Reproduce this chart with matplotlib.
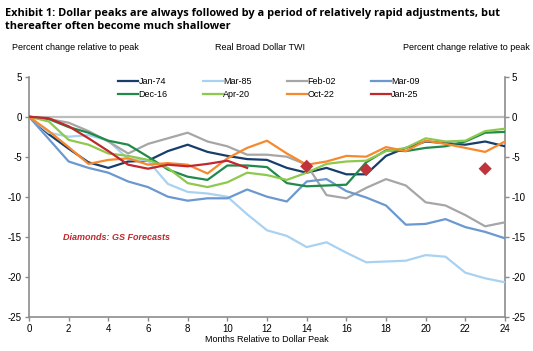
import matplotlib
matplotlib.use("Agg")
import matplotlib.pyplot as plt
import numpy as np

plt.rcParams['font.family'] = ['Liberation Sans', 'DejaVu Sans']
plt.rcParams['axes.unicode_minus'] = False

months = list(range(25))

jan74 = [0, -2.2, -4.0, -5.7, -6.4, -5.6, -5.5, -4.3, -3.5, -4.4, -4.9, -5.3, -5.4,
         -6.4, -7.0, -6.4, -7.2, -7.2, -4.9, -3.9, -3.1, -3.3, -3.5, -3.1, -3.7]
mar85 = [0, -2.0, -2.5, -2.3, -3.0, -5.3, -5.5, -8.4, -9.4, -9.6, -10.0, -12.2, -14.2,
         -14.9, -16.3, -15.7, -17.0, -18.2, -18.1, -18.0, -17.3, -17.5, -19.5, -20.2, -20.7]
feb02 = [0, -0.3, -0.75, -1.8, -3.1, -4.6, -3.4, -2.7, -2.0, -3.1, -3.7, -4.75, -4.75,
         -5.0, -6.0, -9.8, -10.2, -8.9, -7.8, -8.6, -10.7, -11.1, -12.3, -13.7, -13.2]
mar09 = [0, -2.8, -5.6, -6.4, -7.0, -8.1, -8.8, -10.0, -10.5, -10.2, -10.2, -9.1, -10.0,
         -10.6, -8.1, -7.8, -9.3, -10.1, -11.1, -13.5, -13.4, -12.8, -13.8, -14.4, -15.2]
dec16 = [0, -0.3, -1.3, -2.0, -3.0, -3.5, -5.0, -6.6, -7.5, -7.9, -6.1, -6.1, -6.3,
         -8.3, -8.7, -8.6, -8.5, -5.7, -4.2, -4.3, -3.9, -3.7, -3.1, -2.0, -1.9]
apr20 = [0, -0.6, -2.9, -3.5, -4.6, -4.9, -5.4, -6.4, -8.3, -8.8, -8.2, -7.0, -7.3,
         -7.9, -7.0, -5.9, -5.6, -5.5, -4.3, -3.9, -2.7, -3.1, -3.0, -1.8, -1.5]
oct22 = [0, -1.8, -3.8, -5.9, -5.4, -5.2, -6.0, -5.8, -6.0, -7.1, -5.2, -3.9, -3.0,
         -4.6, -6.0, -5.6, -4.9, -5.0, -3.8, -4.3, -3.0, -3.4, -3.9, -4.4, -3.1]
jan25 = [0, -0.2, -1.2, -2.7, -4.3, -6.0, -6.5, -6.0, -6.2, -5.9, -5.5, -6.4]

forecast_months = [14, 17, 23]
forecast_vals = [-6.2, -6.6, -6.5]

series = [
    ("Jan-74", jan74, "#173E6B"),
    ("Mar-85", mar85, "#A9D2F1"),
    ("Feb-02", feb02, "#A6A6A6"),
    ("Mar-09", mar09, "#6B98CF"),
    ("Dec-16", dec16, "#1F8A49"),
    ("Apr-20", apr20, "#8DC94C"),
    ("Oct-22", oct22, "#F7892D"),
    ("Jan-25", jan25, "#C1272D"),
]

fig = plt.figure(figsize=(5.33, 3.51), dpi=100)
ax = fig.add_axes([29/533, (351-316.7)/351, (505-29)/533, (316.7-76.7)/351])

ax.axhline(0, color="#BDBDBD", lw=1.6, zorder=1)
handles = {}
for name, vals, col in series:
    h, = ax.plot(months[:len(vals)], vals, color=col, lw=1.6, label=name, zorder=3)
    handles[name] = h
ax.scatter(forecast_months, forecast_vals, marker="D", s=45, color="#C0333A", zorder=5,
           edgecolors="none")

ax.set_xlim(0, 24)
ax.set_ylim(-25, 5)
ax.set_xticks(range(0, 25, 2))
ax.set_yticks(range(-25, 6, 5))
ax.spines["top"].set_visible(False)
for s in ["left", "right", "bottom"]:
    ax.spines[s].set_color("#8C8C8C")
    ax.spines[s].set_linewidth(1.2)
ax.tick_params(axis="both", labelsize=7, color="#8C8C8C", length=3, width=1,
               direction="out", pad=2)
ax.tick_params(axis="y", left=True, right=True, labelleft=True, labelright=True)

ax.set_xlabel("Months Relative to Dollar Peak", fontsize=6.5, labelpad=1)

fig.text(5/533, 1 - 20/351, "Exhibit 1: Dollar peaks are always followed by a period of relatively rapid adjustments, but\nthereafter often become much shallower",
         fontsize=7.9, fontweight="bold", family=["Open Sans", "DejaVu Sans"],
         va="center", ha="left", linespacing=1.2)
fig.text(12/533, 1 - 47/351, "Percent change relative to peak", fontsize=6.5, va="center", ha="left")
fig.text(260/533, 1 - 47/351, "Real Broad Dollar TWI", fontsize=6.5, va="center", ha="center")
fig.text(530/533, 1 - 47/351, "Percent change relative to peak", fontsize=6.5, va="center", ha="right")

ax.text(1.7, -15.1, "Diamonds: GS Forecasts", color="#C1272D", fontsize=6.5,
        fontweight="bold", style="italic", va="center", ha="left")

order = ["Jan-74", "Dec-16", "Mar-85", "Apr-20", "Feb-02", "Oct-22", "Mar-09", "Jan-25"]
leg = ax.legend([handles[n] for n in order], order, loc="center",
                bbox_to_anchor=(269/533, 1 - 88/351), bbox_transform=fig.transFigure,
                ncol=4, frameon=False, fontsize=6.5, handlelength=2.2, handletextpad=0.05,
                columnspacing=3.9, labelspacing=0.5, borderaxespad=0)

fig.savefig("out.png", dpi=100)
